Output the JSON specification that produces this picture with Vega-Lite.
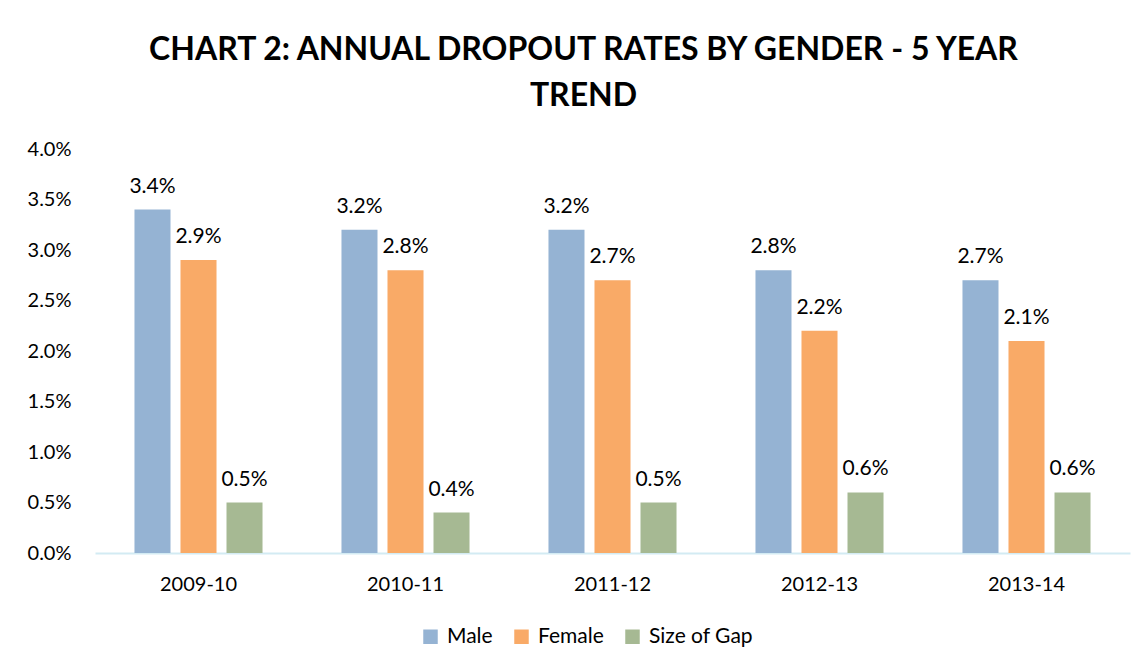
{
  "$schema": "https://vega.github.io/schema/vega-lite/v6.json",
  "width": 1035,
  "height": 404,
  "autosize": {"type": "none"},
  "padding": {"left": 95, "top": 149, "right": 15, "bottom": 119},
  "background": "white",
  "config": {"view": {"stroke": null}, "font": "Lato"},
  "title": {
    "text": ["CHART 2: ANNUAL DROPOUT RATES BY GENDER - 5 YEAR", "TREND"],
    "font": "Lato",
    "fontSize": 32,
    "fontWeight": "bold",
    "color": "#000000",
    "anchor": "middle",
    "frame": "group",
    "dx": -29,
    "offset": 26,
    "lineHeight": 46
  },
  "data": {
    "values": [
      {"year": "2009-10", "series": "Male", "value": 0.034},
      {"year": "2009-10", "series": "Female", "value": 0.029},
      {"year": "2009-10", "series": "Size of Gap", "value": 0.005},
      {"year": "2010-11", "series": "Male", "value": 0.032},
      {"year": "2010-11", "series": "Female", "value": 0.028},
      {"year": "2010-11", "series": "Size of Gap", "value": 0.004},
      {"year": "2011-12", "series": "Male", "value": 0.032},
      {"year": "2011-12", "series": "Female", "value": 0.027},
      {"year": "2011-12", "series": "Size of Gap", "value": 0.005},
      {"year": "2012-13", "series": "Male", "value": 0.028},
      {"year": "2012-13", "series": "Female", "value": 0.022},
      {"year": "2012-13", "series": "Size of Gap", "value": 0.006},
      {"year": "2013-14", "series": "Male", "value": 0.027},
      {"year": "2013-14", "series": "Female", "value": 0.021},
      {"year": "2013-14", "series": "Size of Gap", "value": 0.006}
    ]
  },
  "encoding": {
    "x": {
      "field": "year",
      "type": "nominal",
      "scale": {"paddingInner": 0, "paddingOuter": 0},
      "axis": {
        "title": null,
        "labelAngle": 0,
        "labelFont": "Lato",
        "labelFontSize": 20,
        "labelColor": "#000000",
        "labelPadding": 21,
        "ticks": false,
        "domainColor": "#D3EBF3",
        "domainWidth": 2
      }
    },
    "xOffset": {
      "field": "series",
      "type": "nominal",
      "sort": ["Male", "Female", "Size of Gap"],
      "scale": {"paddingInner": 0.217, "paddingOuter": 0.858}
    },
    "y": {
      "field": "value",
      "type": "quantitative",
      "scale": {"domain": [0, 0.04]},
      "axis": {
        "title": null,
        "format": ".1%",
        "values": [0, 0.005, 0.01, 0.015, 0.02, 0.025, 0.03, 0.035, 0.04],
        "labelOverlap": false,
        "grid": false,
        "domain": false,
        "ticks": false,
        "labelFont": "Lato",
        "labelFontSize": 20,
        "labelColor": "#000000",
        "labelPadding": 24
      }
    }
  },
  "layer": [
    {
      "mark": {"type": "bar"},
      "encoding": {
        "color": {
          "field": "series",
          "type": "nominal",
          "sort": ["Male", "Female", "Size of Gap"],
          "scale": {
            "domain": ["Male", "Female", "Size of Gap"],
            "range": ["#95B3D3", "#F9AA67", "#A6B993"]
          },
          "legend": {
            "title": null,
            "orient": "none",
            "legendX": 325,
            "legendY": 477,
            "direction": "horizontal",
            "symbolType": "square",
            "symbolSize": 210,
            "symbolStrokeWidth": 0,
            "labelFont": "Lato",
            "labelFontSize": 21,
            "labelColor": "#000000",
            "columnPadding": 18,
            "labelOffset": 6
          }
        }
      }
    },
    {
      "mark": {"type": "text", "baseline": "alphabetic", "dy": -17, "fontSize": 21, "font": "Lato", "color": "#000000"},
      "encoding": {
        "text": {"field": "value", "type": "quantitative", "format": ".1%"}
      }
    }
  ]
}
